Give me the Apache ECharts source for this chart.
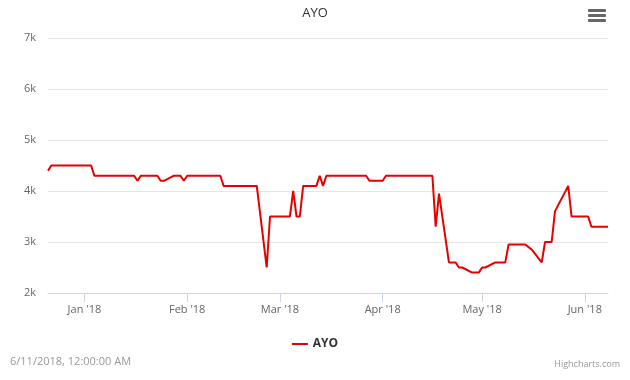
<!DOCTYPE html>
<html>
<head>
<meta charset="utf-8">
<script src="https://cdn.jsdelivr.net/npm/echarts@6/dist/echarts.min.js"></script>
<style>
html,body{margin:0;padding:0;background:#fff;}
#c{width:630px;height:380px;}
</style>
</head>
<body>
<div id="c"></div>
<script>
var dates = ['2017-12-21','2017-12-22','2018-01-03','2018-01-04','2018-01-16','2018-01-17','2018-01-18','2018-01-23','2018-01-24','2018-01-25','2018-01-28','2018-01-30','2018-01-31','2018-02-01','2018-02-11','2018-02-12','2018-02-22','2018-02-25','2018-02-26','2018-03-04','2018-03-05','2018-03-06','2018-03-07','2018-03-08','2018-03-12','2018-03-13','2018-03-14','2018-03-15','2018-03-27','2018-03-28','2018-04-01','2018-04-02','2018-04-16','2018-04-17','2018-04-18','2018-04-21','2018-04-23','2018-04-24','2018-04-25','2018-04-28','2018-04-30','2018-05-01','2018-05-02','2018-05-05','2018-05-08','2018-05-09','2018-05-14','2018-05-16','2018-05-19','2018-05-20','2018-05-22','2018-05-23','2018-05-27','2018-05-28','2018-06-02','2018-06-03','2018-06-08'];
var values = [4400,4500,4500,4300,4300,4200,4300,4300,4200,4200,4300,4300,4200,4300,4300,4100,4100,2500,3500,3500,4000,3500,3500,4100,4100,4300,4100,4300,4300,4200,4200,4300,4300,3300,3950,2600,2600,2500,2500,2400,2400,2500,2500,2600,2600,2950,2950,2850,2600,3000,3000,3600,4100,3500,3500,3300,3300];
var seriesName = 'AYO';
var monthNames = ['Jan','Feb','Mar','Apr','May','Jun','Jul','Aug','Sep','Oct','Nov','Dec'];
var xMin = '2017-12-21';
var xMax = '2018-06-08';

function ts(s){ var p = s.split('-'); return Date.UTC(+p[0], +p[1]-1, +p[2]); }
var data = dates.map(function(d,i){ return [ts(d), values[i]]; });

var font = '"Open Sans", "Liberation Sans", Arial, sans-serif';
var chart = echarts.init(document.getElementById('c'));
chart.setOption({
  animation: false,
  backgroundColor: '#ffffff',
  useUTC: true,
  title: {
    text: 'AYO', left: 'center', top: 2,
    textStyle: { fontSize: 13, fontWeight: 'normal', color: '#333333', fontFamily: font }
  },
  legend: {
    bottom: 25, left: 'center',
    itemWidth: 16, itemHeight: 2, icon: 'rect', itemGap: 10,
    textStyle: { fontSize: 12, fontWeight: 'bold', color: '#333333', fontFamily: font },
    data: [seriesName]
  },
  grid: { left: 48, right: 22, top: 38, bottom: 87, containLabel: false },
  xAxis: {
    type: 'time',
    min: ts(xMin), max: ts(xMax),
    minInterval: 28 * 86400000,
    maxInterval: 31 * 86400000,
    axisLine: { show: true, lineStyle: { color: '#ccd6eb' } },
    axisTick: { show: true, length: 9, lineStyle: { color: '#ccd6eb' } },
    splitLine: { show: false },
    axisLabel: {
      color: '#666666', fontSize: 11, fontFamily: font, margin: 11,
      hideOverlap: false,
      formatter: function (v) {
        var d = new Date(v);
        return monthNames[d.getUTCMonth()] + " '" + String(d.getUTCFullYear()).slice(2);
      }
    }
  },
  yAxis: {
    type: 'value', min: 2000, max: 7000, interval: 1000,
    axisLine: { show: false }, axisTick: { show: false },
    splitLine: { lineStyle: { color: '#e6e6e6' } },
    axisLabel: {
      color: '#666666', fontSize: 11, fontFamily: font, margin: 12,
      formatter: function (v) { return (v / 1000) + 'k'; }
    }
  },
  series: [{
    name: seriesName, type: 'line', data: data,
    showSymbol: false, symbol: 'none',
    lineStyle: { color: '#e60000', width: 2 },
    itemStyle: { color: '#e60000' }
  }],
  graphic: [
    { type: 'text', left: 10, top: 356, style: { text: '6/11/2018, 12:00:00 AM', fill: '#999999', fontSize: 11, fontFamily: font } },
    { type: 'text', right: 10, top: 360, style: { text: 'Highcharts.com', fill: '#999999', fontSize: 9, fontFamily: font } },
    { type: 'rect', shape: { x: 588, y: 9, width: 18, height: 3, r: 1 }, style: { fill: '#666666' } },
    { type: 'rect', shape: { x: 588, y: 14, width: 18, height: 3, r: 1 }, style: { fill: '#666666' } },
    { type: 'rect', shape: { x: 588, y: 19, width: 18, height: 3, r: 1 }, style: { fill: '#666666' } }
  ]
});
</script>
</body>
</html>
